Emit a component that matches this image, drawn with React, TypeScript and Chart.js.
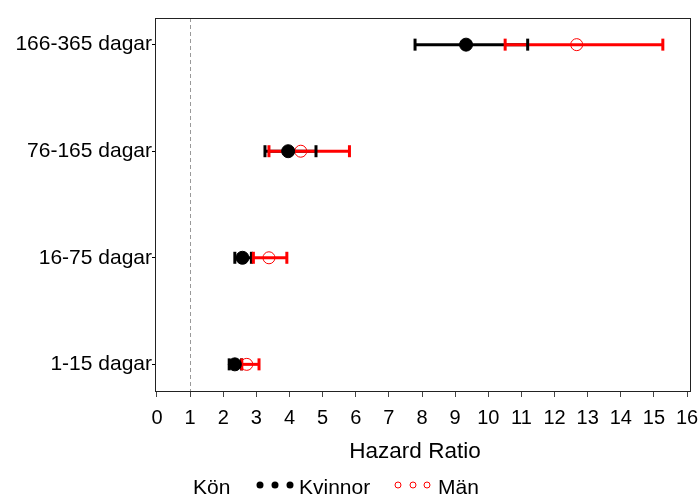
import React, { useEffect, useRef } from "react";
import { Chart, registerables } from "chart.js";

Chart.register(...registerables);

const categories = ["1-15 dagar", "16-75 dagar", "76-165 dagar", "166-365 dagar"];
const xTicks = [0, 1, 2, 3, 4, 5, 6, 7, 8, 9, 10, 11, 12, 13, 14, 15, 16];

const kvinnorHR = [2.35, 2.58, 3.96, 9.33];
const kvinnorLower = [2.18, 2.35, 3.26, 7.79];
const kvinnorUpper = [2.55, 2.85, 4.8, 11.19];

const manHR = [2.71, 3.38, 4.34, 12.67];
const manLower = [2.56, 2.91, 3.38, 10.51];
const manUpper = [3.08, 3.92, 5.81, 15.27];

const referenceLine = 1;
const xTitle = "Hazard Ratio";
const legendTitle = "Kön";
const seriesNames = ["Kvinnor", "Män"];

const FONT = "'Liberation Sans', Arial, sans-serif";

export default function App() {
  const ref = useRef<HTMLCanvasElement | null>(null);

  useEffect(() => {
    if (!ref.current) return;

    const errorBars = {
      id: "errorBars",
      beforeDatasetsDraw(chart: any) {
        const { ctx, chartArea, scales } = chart;
        const xs = scales.x;
        const ys = scales.y;
        ctx.save();
        ctx.strokeStyle = "#999";
        ctx.lineWidth = 1;
        ctx.setLineDash([4, 3]);
        const rx = Math.round(xs.getPixelForValue(referenceLine)) + 0.5;
        ctx.beginPath();
        ctx.moveTo(rx, chartArea.top);
        ctx.lineTo(rx, chartArea.bottom);
        ctx.stroke();
        ctx.setLineDash([]);

        const series = [
          { lo: kvinnorLower, hi: kvinnorUpper, color: "#000" },
          { lo: manLower, hi: manUpper, color: "#ff0000" },
        ];
        ctx.lineWidth = 3;
        series.forEach((s) => {
          ctx.strokeStyle = s.color;
          s.lo.forEach((lo, i) => {
            const y = ys.getPixelForValue(i);
            ctx.beginPath();
            ctx.moveTo(xs.getPixelForValue(lo), y);
            ctx.lineTo(xs.getPixelForValue(s.hi[i]), y);
            ctx.stroke();
          });
        });
        series.forEach((s) => {
          ctx.strokeStyle = s.color;
          s.lo.forEach((lo, i) => {
            const y = ys.getPixelForValue(i);
            [lo, s.hi[i]].forEach((v) => {
              const x = xs.getPixelForValue(v);
              ctx.beginPath();
              ctx.moveTo(x, y - 6);
              ctx.lineTo(x, y + 6);
              ctx.stroke();
            });
          });
        });
        ctx.restore();
      },
      afterDraw(chart: any) {
        const { ctx, chartArea } = chart;
        ctx.save();
        ctx.strokeStyle = "#222";
        ctx.lineWidth = 1;
        ctx.strokeRect(
          Math.round(chartArea.left) + 0.5,
          Math.round(chartArea.top) + 0.5,
          Math.round(chartArea.right - chartArea.left),
          Math.round(chartArea.bottom - chartArea.top)
        );
        // axis title
        ctx.font = `22.5px ${FONT}`;
        ctx.fillStyle = "#000";
        ctx.textBaseline = "middle";
        ctx.textAlign = "center";
        ctx.fillText(xTitle, 415, 452);
        // legend
        const ly = 488;
        ctx.font = `21px ${FONT}`;
        ctx.textAlign = "left";
        ctx.fillText(legendTitle, 193, ly);
        [260, 275, 290].forEach((x) => {
          ctx.beginPath();
          ctx.arc(x, ly - 3, 3.5, 0, Math.PI * 2);
          ctx.fillStyle = "#000";
          ctx.fill();
        });
        ctx.fillStyle = "#000";
        ctx.fillText(seriesNames[0], 299, ly);
        ctx.strokeStyle = "#ff0000";
        ctx.lineWidth = 1;
        [398, 413, 427].forEach((x) => {
          ctx.beginPath();
          ctx.arc(x, ly - 3, 3, 0, Math.PI * 2);
          ctx.stroke();
        });
        ctx.fillStyle = "#000";
        ctx.fillText(seriesNames[1], 438, ly);
        ctx.restore();
      },
    };

    const chart = new Chart(ref.current, {
      type: "scatter",
      data: {
        datasets: [
          {
            label: seriesNames[0],
            data: kvinnorHR.map((v, i) => ({ x: v, y: i })),
            pointStyle: "circle",
            pointRadius: 6.5,
            backgroundColor: "#000",
            borderColor: "#000",
            borderWidth: 1,
          },
          {
            label: seriesNames[1],
            data: manHR.map((v, i) => ({ x: v, y: i })),
            pointStyle: "circle",
            pointRadius: 6,
            backgroundColor: "rgba(0,0,0,0)",
            borderColor: "#ff0000",
            borderWidth: 1,
          },
        ],
      },
      options: {
        responsive: false,
        animation: false,
        layout: { padding: { top: 18, right: 10, left: 0, bottom: 0 } },
        plugins: {
          legend: { display: false },
          tooltip: { enabled: false },
        },
        scales: {
          x: {
            type: "linear",
            min: -0.06,
            max: 16.09,
            afterBuildTicks: (scale: any) => {
              scale.ticks = xTicks.map((v) => ({ value: v }));
            },
            afterFit: (scale: any) => {
              scale.height = 107;
              scale.paddingLeft = 0;
              scale.paddingRight = 0;
            },
            ticks: {
              color: "#000",
              font: { family: FONT, size: 20 },
              padding: 9,
              maxRotation: 0,
              autoSkip: false,
              callback: (v: any) => String(v),
            },
            grid: {
              drawOnChartArea: false,
              drawTicks: true,
              tickLength: 6,
              color: "#444",
            },
            border: { display: true, color: "#000" },
            title: { display: false },
          },
          y: {
            type: "linear",
            min: -0.25,
            max: 3.25,
            afterBuildTicks: (scale: any) => {
              scale.ticks = categories.map((_, i) => ({ value: i }));
            },
            afterFit: (scale: any) => {
              scale.width = 155;
              scale.paddingTop = 0;
              scale.paddingBottom = 0;
            },
            ticks: {
              color: "#000",
              font: { family: FONT, size: 21 },
              padding: 0,
              autoSkip: false,
              callback: (v: any) => categories[Math.round(Number(v))] ?? "",
            },
            grid: {
              drawOnChartArea: false,
              drawTicks: true,
              tickLength: 3,
              color: "#000",
            },
            border: { display: true, color: "#000" },
          },
        },
      },
      plugins: [errorBars],
    } as any);

    return () => chart.destroy();
  }, []);

  return (
    <div style={{ position: "fixed", left: 0, top: 0, width: 700, height: 498, background: "#fff" }}>
      <canvas ref={ref} width={700} height={498} style={{ width: 700, height: 498, display: "block" }} />
    </div>
  );
}
